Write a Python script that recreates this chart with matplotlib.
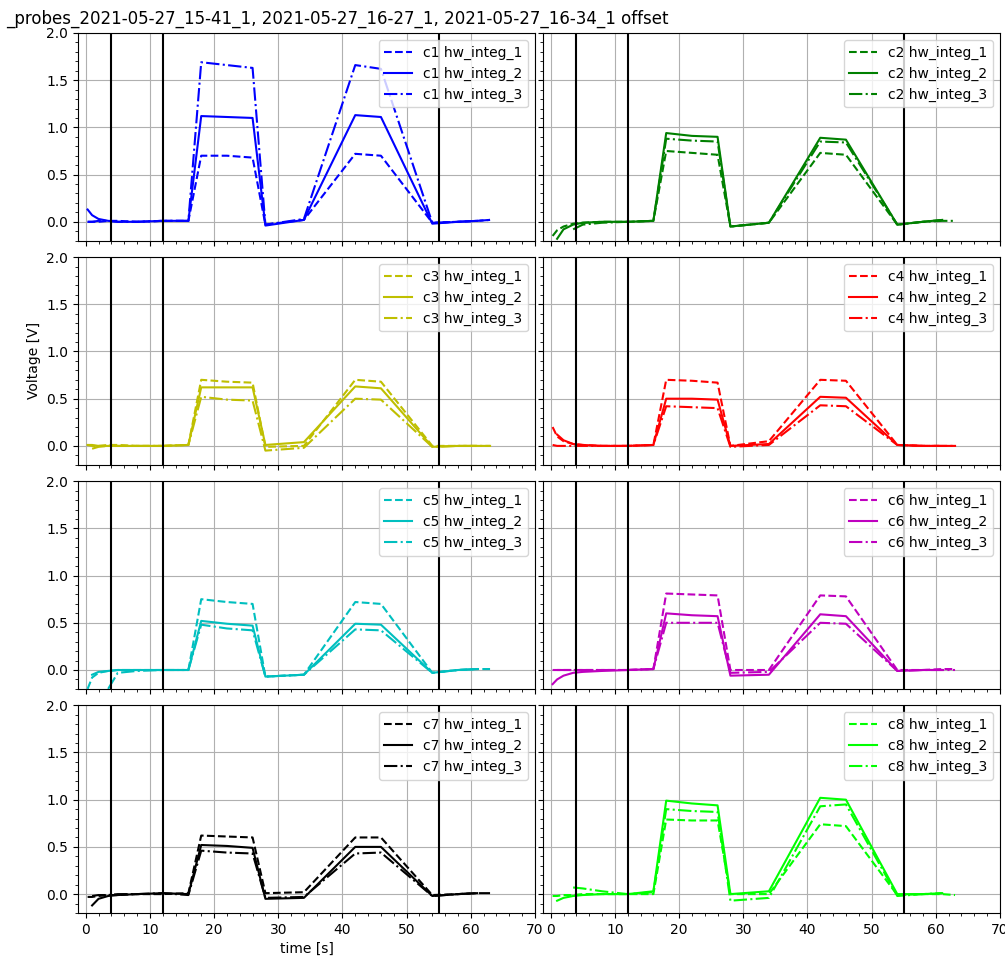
import numpy as np
import matplotlib
matplotlib.use("Agg")
import matplotlib.pyplot as plt

nan = float("nan")

title = "_probes_2021-05-27_15-41_1, 2021-05-27_16-27_1, 2021-05-27_16-34_1 offset"
runs = ["hw_integ_1", "hw_integ_2", "hw_integ_3"]
styles = ["--", "-", "-."]
channels = ["c1", "c2", "c3", "c4", "c5", "c6", "c7", "c8"]
colors = ["b", "g", "y", "r", "c", "m", "k", "lime"]
markers_t = [4, 12, 55]

# sample times [s]
t = [0.3, 1, 2, 3.5, 5, 8, 12, 16, 18, 22, 26, 28, 34, 42, 46, 54, 58, 61, 63]

# voltages per channel: rows are hw_integ_1, hw_integ_2, hw_integ_3
c1 = [
    [0.00, 0.00, 0.00, 0.01, 0.01, 0.00, 0.01, 0.01, 0.70, 0.70, 0.68, -0.03, 0.02, 0.72, 0.70, -0.01, 0.00, 0.01, 0.02],
    [0.13, 0.07, 0.03, 0.01, 0.00, 0.00, 0.01, 0.01, 1.12, 1.11, 1.10, -0.04, 0.02, 1.13, 1.11, -0.02, 0.00, 0.01, nan],
    [0.00, 0.00, 0.01, 0.01, 0.00, 0.00, 0.01, 0.01, 1.69, 1.66, 1.63, -0.03, 0.03, 1.66, 1.62, -0.01, 0.00, 0.01, 0.02],
]
c2 = [
    [-0.15, -0.09, -0.05, -0.02, -0.01, 0.00, 0.00, 0.01, 0.75, 0.73, 0.71, -0.05, -0.01, 0.73, 0.71, -0.03, 0.00, 0.02, nan],
    [nan, -0.18, -0.08, -0.03, -0.01, 0.00, 0.00, 0.01, 0.94, 0.91, 0.90, -0.05, -0.01, 0.89, 0.87, -0.03, 0.00, 0.02, nan],
    [nan, nan, nan, -0.08, -0.03, -0.01, 0.00, 0.01, 0.88, 0.86, 0.85, -0.05, -0.01, 0.85, 0.84, -0.03, 0.00, 0.01, 0.01],
]
c3 = [
    [0.01, 0.00, 0.00, 0.01, 0.01, 0.00, 0.00, 0.01, 0.70, 0.68, 0.67, -0.01, 0.00, 0.70, 0.68, 0.00, 0.00, 0.00, nan],
    [0.01, 0.01, 0.00, 0.00, 0.00, 0.00, 0.00, 0.01, 0.62, 0.62, 0.62, 0.01, 0.04, 0.63, 0.61, -0.01, 0.00, 0.00, 0.00],
    [nan, -0.03, -0.01, 0.00, 0.00, 0.00, 0.00, 0.01, 0.52, 0.49, 0.48, -0.05, -0.02, 0.50, 0.49, -0.01, 0.00, 0.00, 0.00],
]
c4 = [
    [0.20, 0.10, 0.05, 0.02, 0.01, 0.00, 0.00, 0.01, 0.70, 0.69, 0.67, 0.00, 0.05, 0.70, 0.69, 0.01, 0.00, 0.00, nan],
    [nan, 0.12, 0.06, 0.02, 0.01, 0.00, 0.00, 0.01, 0.50, 0.50, 0.49, 0.00, 0.02, 0.52, 0.51, 0.01, 0.00, 0.00, 0.00],
    [0.01, 0.00, 0.00, 0.00, 0.00, 0.00, 0.00, 0.01, 0.42, 0.41, 0.40, -0.01, 0.01, 0.43, 0.42, 0.01, 0.00, 0.00, 0.00],
]
c5 = [
    [-0.20, -0.08, -0.03, -0.01, 0.00, 0.00, 0.00, 0.00, 0.75, 0.72, 0.70, -0.07, -0.05, 0.72, 0.70, -0.03, 0.00, 0.01, nan],
    [nan, -0.05, -0.02, -0.01, 0.00, 0.00, 0.00, 0.00, 0.52, 0.49, 0.47, -0.07, -0.05, 0.49, 0.48, -0.03, 0.00, 0.01, nan],
    [nan, nan, nan, -0.20, -0.03, -0.01, 0.00, 0.00, 0.48, 0.44, 0.42, -0.07, -0.05, 0.43, 0.42, -0.03, 0.00, 0.01, 0.01],
]
c6 = [
    [0.00, 0.00, 0.00, 0.00, 0.00, 0.00, 0.00, 0.01, 0.81, 0.80, 0.79, 0.00, 0.00, 0.79, 0.78, 0.00, 0.00, 0.01, 0.01],
    [-0.15, -0.10, -0.06, -0.03, -0.02, -0.01, 0.00, 0.01, 0.60, 0.58, 0.57, -0.06, -0.05, 0.59, 0.57, -0.01, 0.00, 0.00, nan],
    [nan, 0.00, 0.00, 0.00, 0.00, 0.00, 0.00, 0.01, 0.50, 0.50, 0.50, -0.03, -0.02, 0.50, 0.49, -0.01, 0.00, 0.00, 0.00],
]
c7 = [
    [-0.03, -0.03, -0.02, -0.01, -0.01, 0.00, 0.00, 0.01, 0.62, 0.61, 0.60, 0.01, 0.02, 0.60, 0.60, -0.01, 0.00, 0.01, nan],
    [nan, -0.12, -0.05, -0.02, -0.01, 0.00, 0.01, 0.00, 0.52, 0.51, 0.49, -0.05, -0.04, 0.50, 0.50, -0.02, 0.00, 0.01, nan],
    [nan, -0.02, -0.01, -0.01, 0.00, 0.00, 0.01, -0.01, 0.46, 0.44, 0.43, -0.04, -0.03, 0.43, 0.44, -0.02, 0.00, 0.01, 0.01],
]
c8 = [
    [-0.02, -0.02, -0.01, -0.01, 0.00, 0.00, 0.00, 0.00, 0.79, 0.78, 0.78, 0.00, 0.00, 0.74, 0.72, -0.01, 0.00, 0.00, -0.01],
    [nan, -0.07, -0.04, -0.02, -0.01, 0.00, 0.00, 0.03, 0.99, 0.96, 0.94, 0.00, 0.03, 1.02, 1.00, 0.00, 0.00, 0.01, nan],
    [nan, nan, nan, 0.07, 0.06, 0.03, 0.00, 0.02, 0.90, 0.88, 0.87, -0.07, -0.04, 0.93, 0.95, -0.02, 0.00, 0.01, nan],
]
data = [c1, c2, c3, c4, c5, c6, c7, c8]

fig, axs = plt.subplots(4, 2, sharex=True, sharey=True, figsize=(10.05, 9.56), dpi=100)
fig.subplots_adjust(left=0.0776, right=0.995, top=0.9655, bottom=0.045, wspace=0.0175, hspace=0.079)

for i, ax in enumerate(axs.flat):
    for j in range(3):
        ax.plot(t, data[i][j], styles[j], color=colors[i], label=channels[i] + " " + runs[j])
    for xv in markers_t:
        ax.axvline(xv, color="k")
    ax.grid(True)
    ax.minorticks_on()
    ax.legend(loc="upper right")

axs[0, 0].set_ylim(-0.2, 2.0)
axs[0, 0].set_xlim(-1.2, 70)
axs[1, 0].set_ylabel("Voltage [V]")
axs[3, 0].set_xlabel("time [s]")
fig.suptitle(title, x=0.006, y=0.99, ha="left", va="top", fontsize=12)

fig.savefig("out.png")
